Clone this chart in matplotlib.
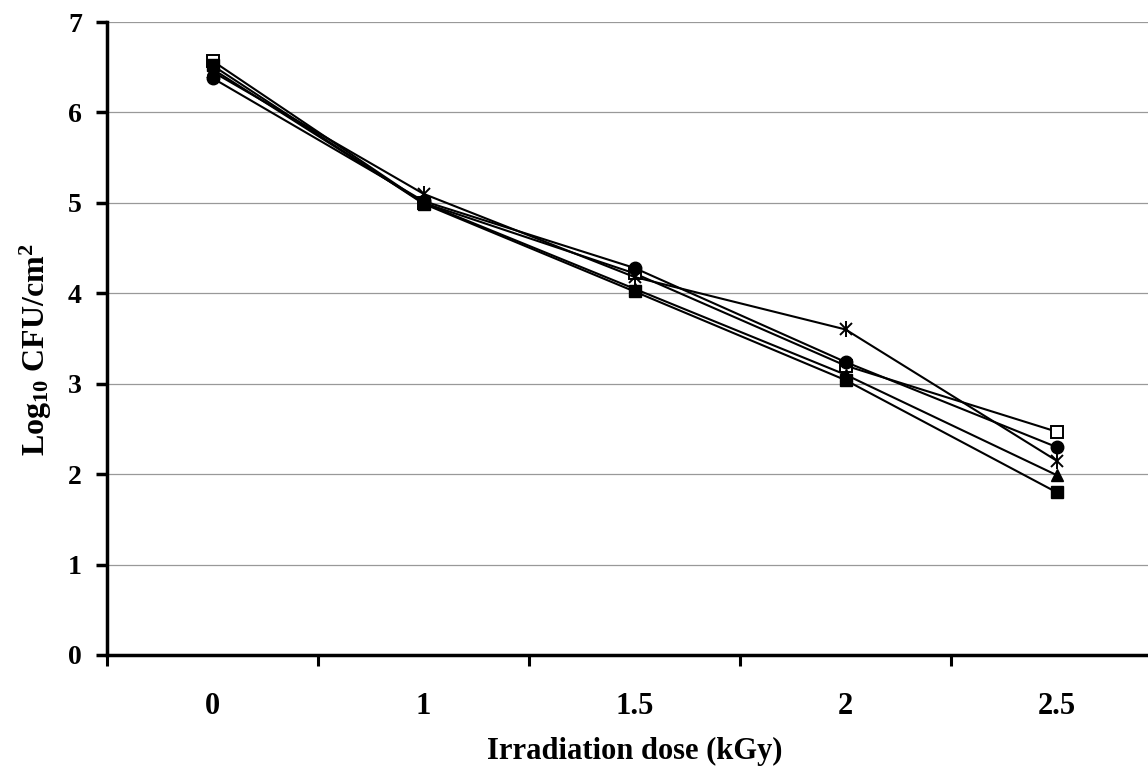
import numpy as np
import matplotlib
matplotlib.use("Agg")
import matplotlib.pyplot as plt

# doses shown as categories on the x axis
doses = ['0', '1', '1.5', '2', '2.5']

# log10 CFU/cm2 for each of the five series
open_square = [6.57, 5.00, 4.22, 3.20, 2.47]
circle = [6.38, 5.02, 4.28, 3.24, 2.30]
star = [6.45, 5.10, 4.18, 3.60, 2.15]
triangle = [6.48, 5.00, 4.05, 3.10, 1.99]
filled_square = [6.52, 4.99, 4.02, 3.04, 1.80]

plt.rcParams['font.family'] = ['Liberation Serif', 'DejaVu Serif']
plt.rcParams['font.weight'] = 'bold'
plt.rcParams['mathtext.default'] = 'regular'

fig = plt.figure(figsize=(11.48, 7.73), dpi=100)
W, H = 1148, 773
ax = fig.add_axes([107 / W, (H - 655) / H, (1162 - 107) / W, (655 - 22) / H])

x = np.arange(len(doses))
kw = dict(color='black', lw=1.5, ms=9, clip_on=False)
ax.plot(x, open_square, marker='s', mfc='white', mec='black', mew=1.4, **kw)
ax.plot(x, circle, marker='o', **kw)
ax.plot(x, star, marker='x', mew=1.4, **kw)
# vertical bar completes the asterisk marker
ax.plot(x, star, ls='none', marker='|', color='black', ms=11, mew=1.4, clip_on=False)
ax.plot(x, triangle, marker='^', **kw)
ax.plot(x, filled_square, marker='s', **kw)

ax.set_xlim(-0.5, len(doses) - 0.5)
ax.set_ylim(0, 7)
ax.set_yticks(range(0, 8))
ax.yaxis.grid(True, color='#999999', lw=0.9)
ax.set_axisbelow(True)

ax.set_xticks(x)
ax.set_xticklabels(doses)
ax.set_xticks(np.arange(-0.5, len(doses)), minor=True)
ax.tick_params(axis='x', which='major', length=0, labelsize=22, pad=27)
ax.tick_params(axis='x', which='minor', length=8, width=2.2, direction='out')
ax.tick_params(axis='y', length=8, width=2.5, direction='out', labelsize=20, pad=10)

for s in ['top', 'right']:
    ax.spines[s].set_visible(False)
for s in ['left', 'bottom']:
    ax.spines[s].set_linewidth(2.5)

ax.set_xlabel('Irradiation dose (kGy)', fontsize=22, fontweight='bold')
ax.xaxis.set_label_coords(0.5, -(737 - 655) / 633)
ax.set_ylabel(r'Log$_{10}$ CFU/cm$^2$', fontsize=23, fontweight='bold')
ax.yaxis.set_label_coords(-0.05, 0.482)

fig.savefig('out.png', dpi=100)
